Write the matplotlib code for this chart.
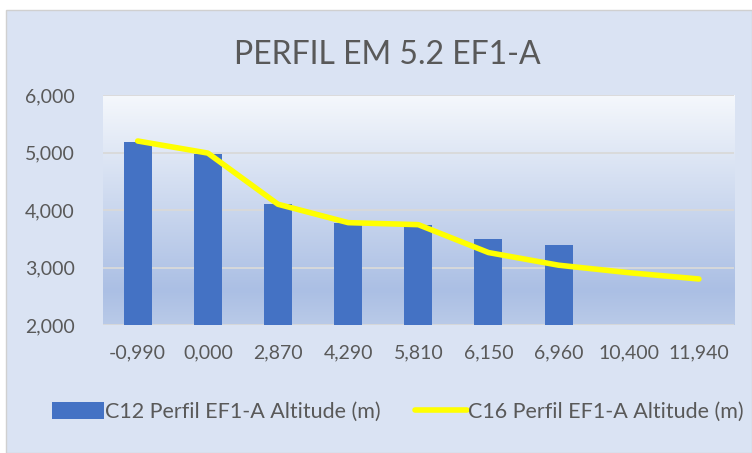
import matplotlib.pyplot as plt
import numpy as np
from matplotlib.patches import Rectangle
from matplotlib.colors import LinearSegmentedColormap

plt.rcParams['font.family'] = ['Lato', 'DejaVu Sans']

categories = ['-0,990', '0,000', '2,870', '4,290', '5,810', '6,150', '6,960', '10,400', '11,940']
c12_values = [5190, 4975, 4100, 3780, 3740, 3500, 3400]
c16_values = [5200, 4990, 4100, 3780, 3745, 3260, 3040, 2910, 2800]
y_ticks = [2000, 3000, 4000, 5000, 6000]
y_tick_labels = ['2,000', '3,000', '4,000', '5,000', '6,000']

W, H = 752, 453
fig = plt.figure(figsize=(W / 100, H / 100), dpi=100)
fig.patch.set_facecolor('white')

# chart area
fig.patches.append(Rectangle((6 / W, 0), 1 - 6 / W, 1 - 10 / H, transform=fig.transFigure,
                             facecolor='#DAE3F3', edgecolor='#D0D0D0', linewidth=1.0, zorder=-10))

ax = fig.add_axes([102.6 / W, 1 - 325 / H, (734 - 102.6) / W, (325 - 95) / H])
ax.set_facecolor('none')

# plot area gradient
grad_cmap = LinearSegmentedColormap.from_list(
    'pa', [(0.0, '#F5F8FC'), (0.85, '#ABBFE4'), (1.0, '#B9CAE8')])
grad = np.linspace(0, 1, 256).reshape(-1, 1)
ax.imshow(grad, cmap=grad_cmap, aspect='auto', extent=(-0.5, 8.5, 2000, 6000),
          origin='upper', zorder=0, interpolation='bilinear')

x = np.arange(len(categories))
bars = ax.bar(x[:len(c12_values)], [v - 2000 for v in c12_values], bottom=2000, width=0.4,
              color='#4472C4', zorder=2)
line, = ax.plot(x, c16_values, color='#FFFF00', linewidth=4.0, solid_capstyle='round',
                solid_joinstyle='round', zorder=3)

ax.set_xlim(-0.5, 8.5)
ax.set_ylim(2000, 6000)
ax.set_yticks(y_ticks)
ax.set_yticklabels(y_tick_labels)
ax.set_xticks(x)
ax.set_xticklabels(categories)
for yv in y_ticks:
    ax.axhline(yv, color='#D9D9D9', linewidth=1.3, zorder=1)
for s in ax.spines.values():
    s.set_visible(False)
ax.tick_params(length=0, labelsize=14, labelcolor='#595959')
ax.tick_params(axis='y', pad=20)
ax.tick_params(axis='x', pad=14)

fig.text(387 / W, 1 - 55 / H, 'PERFIL EM 5.2 EF1-A', ha='center', va='center',
         fontsize=23, color='#595959')

leg = fig.legend([bars, line], ['C12 Perfil EF1-A Altitude (m)', 'C16 Perfil EF1-A Altitude (m)'],
                 loc='center', bbox_to_anchor=(398 / W, 1 - 412 / H), ncol=2, frameon=False,
                 fontsize=15.5, handlelength=2.4, handleheight=0.85, columnspacing=1.6,
                 handletextpad=0.05)
for t in leg.get_texts():
    t.set_color('#595959')

fig.savefig('out.png', dpi=100)
